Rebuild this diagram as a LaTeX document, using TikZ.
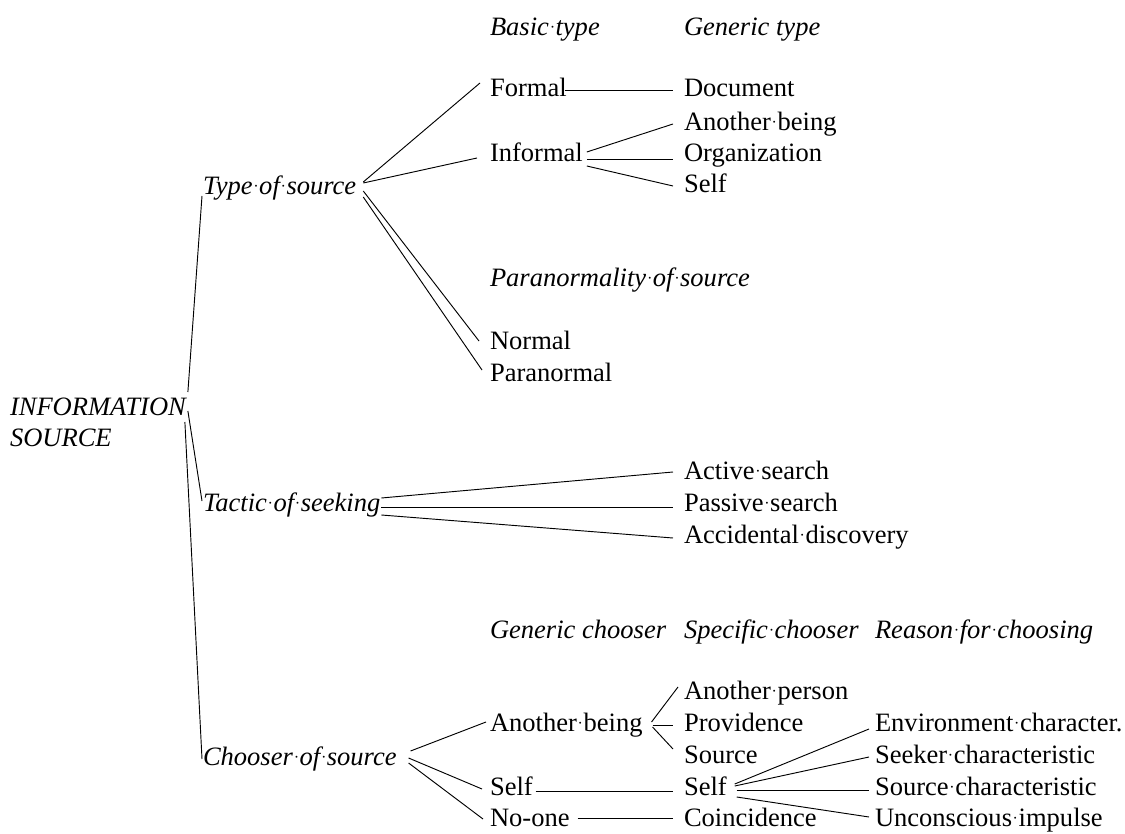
\documentclass[tikz,border=0pt]{standalone}
\usepackage{fontspec}
\setmainfont{Liberation Serif}
% small centred dot standing for a visible space mark
\newcommand\spdot{\makebox[0.25em][c]{\raisebox{0.11em}{\scalebox{0.6}{·}}}}
\begin{document}
\begin{tikzpicture}[x=0.75pt,y=-0.75pt,
  lbl/.style={anchor=west,inner sep=0pt,outer sep=0pt,text height=0.66em,text depth=0pt,
    font=\fontsize{19.9pt}{23.6pt}\selectfont},
  ital/.style={lbl,font=\fontsize{19.9pt}{23.6pt}\selectfont\itshape},
  link/.style={line width=0.7pt}]
\useasboundingbox (0,0) rectangle (1125,834);

% root and first level
\node[ital] (info) at (10,411) {INFORMATION};
\node[ital] (info2) at (10,442) {SOURCE};
\node[ital] (type) at (203,190) {Type\spdot of\spdot source};
\node[ital] (tactic) at (203,507) {Tactic\spdot of\spdot seeking};
\node[ital] (chooser) at (203,761) {Chooser\spdot of\spdot source};

% type of source
\node[ital] (basic) at (490,31) {Basic\spdot type};
\node[ital] (generic) at (684,31) {Generic type};
\node[lbl] (formal) at (490,92) {Formal};
\node[lbl] (document) at (684,92) {Document};
\node[lbl] (anotherA) at (684,126) {Another\spdot being};
\node[lbl] (informal) at (490,157) {Informal};
\node[lbl] (organization) at (684,157) {Organization};
\node[lbl] (selfA) at (684,188) {Self};
\node[ital] (paranorm) at (490,282) {Paranormality\spdot of\spdot source};
\node[lbl] (normal) at (490,345) {Normal};
\node[lbl] (paranormal) at (490,377) {Paranormal};

% tactic of seeking
\node[lbl] (active) at (684,475) {Active\spdot search};
\node[lbl] (passive) at (684,507) {Passive\spdot search};
\node[lbl] (accidental) at (684,539) {Accidental\spdot discovery};

% chooser of source
\node[ital] (genchooser) at (490,634) {Generic chooser};
\node[ital] (specchooser) at (684,634) {Specific\spdot chooser};
\node[ital] (reason) at (875,634) {Reason\spdot for\spdot choosing};
\node[lbl] (person) at (684,695) {Another\spdot person};
\node[lbl] (anotherB) at (490,727) {Another\spdot being};
\node[lbl] (providence) at (684,727) {Providence};
\node[lbl] (environment) at (875,727) {Environment\spdot character.};
\node[lbl] (source) at (684,759) {Source};
\node[lbl] (seeker) at (875,759) {Seeker\spdot characteristic};
\node[lbl] (selfB) at (490,791) {Self};
\node[lbl] (selfC) at (684,791) {Self};
\node[lbl] (sourcechar) at (875,791) {Source\spdot characteristic};
\node[lbl] (noone) at (490,822) {No-one};
\node[lbl] (coincidence) at (684,822) {Coincidence};
\node[lbl] (unconscious) at (875,822) {Unconscious\spdot impulse};

% connectors from the root
\draw[link] ([shift={(2,-19)}]info.east) -- ([shift={(-1,6)}]type.west);
\draw[link] ([shift={(2,0)}]info.east) -- ([shift={(-1,-6)}]tactic.west);
\draw[link] ([shift={(-1,11)}]info.east) -- ([shift={(-1,-2)}]chooser.west);

% type of source branches
\draw[link] ([shift={(7,-8)}]type.east) -- ([shift={(-10,-9)}]formal.west);
\draw[link] ([shift={(7,-7)}]type.east) -- ([shift={(-13,1)}]informal.west);
\draw[link] ([shift={(7,1)}]type.east) -- ([shift={(-11,-4)}]normal.west);
\draw[link] ([shift={(7,7)}]type.east) -- ([shift={(-8,-7)}]paranormal.west);
\draw[link] ([shift={(-2,-2)}]formal.east) -- ([shift={(-11,-2)}]document.west);
\draw[link] ([shift={(4,-5)}]informal.east) -- ([shift={(-11,-2)}]anotherA.west);
\draw[link] ([shift={(4,2)}]informal.east) -- ([shift={(-11,2)}]organization.west);
\draw[link] ([shift={(4,9)}]informal.east) -- ([shift={(-11,-2)}]selfA.west);

% tactic of seeking branches
\draw[link] ([shift={(1,-9)}]tactic.east) -- ([shift={(-11,-3)}]active.west);
\draw[link] ([shift={(1,0)}]tactic.east) -- ([shift={(-11,0)}]passive.west);
\draw[link] ([shift={(1,8)}]tactic.east) -- ([shift={(-11,-1)}]accidental.west);

% chooser of source branches
\draw[link] ([shift={(14,-10)}]chooser.east) -- ([shift={(-4,-5)}]anotherB.west);
\draw[link] ([shift={(12,-3)}]chooser.east) -- ([shift={(-8,-2)}]selfB.west);
\draw[link] ([shift={(12,2)}]chooser.east) -- ([shift={(-7,-3)}]noone.west);
\draw[link] ([shift={(9,-5)}]anotherB.east) -- ([shift={(-6,-8)}]person.west);
\draw[link] ([shift={(10,-2)}]anotherB.east) -- ([shift={(-11,-2)}]providence.west);
\draw[link] ([shift={(10,0)}]anotherB.east) -- ([shift={(-11,-10)}]source.west);
\draw[link] ([shift={(3,0)}]selfB.east) -- ([shift={(-11,0)}]selfC.west);
\draw[link] ([shift={(8,-4)}]noone.east) -- ([shift={(-11,-4)}]coincidence.west);
\draw[link] ([shift={(8,-7)}]selfC.east) -- ([shift={(-6,2)}]environment.west);
\draw[link] ([shift={(8,-5)}]selfC.east) -- ([shift={(-6,-2)}]seeker.west);
\draw[link] ([shift={(10,-1)}]selfC.east) -- ([shift={(-6,-1)}]sourcechar.west);
\draw[link] ([shift={(10,6)}]selfC.east) -- ([shift={(-6,-5)}]unconscious.west);
\end{tikzpicture}
\end{document}
